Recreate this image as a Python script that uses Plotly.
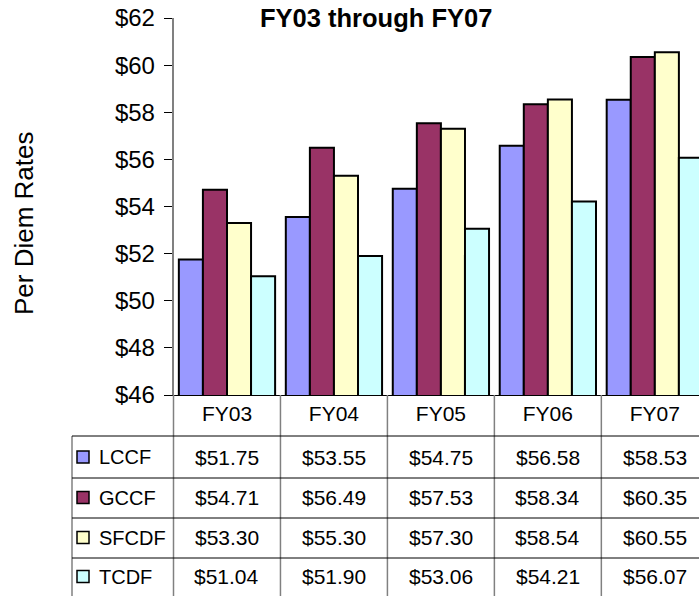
import plotly.graph_objects as go

categories = ["FY03", "FY04", "FY05", "FY06", "FY07"]
series_names = ["LCCF", "GCCF", "SFCDF", "TCDF"]
lccf = [51.75, 53.55, 54.75, 56.58, 58.53]
gccf = [54.71, 56.49, 57.53, 58.34, 60.35]
sfcdf = [53.30, 55.30, 57.30, 58.54, 60.55]
tcdf = [51.04, 51.90, 53.06, 54.21, 56.07]
y_ticks = [46, 48, 50, 52, 54, 56, 58, 60, 62]
y_tick_labels = ["$46", "$48", "$50", "$52", "$54", "$56", "$58", "$60", "$62"]

series_values = [lccf, gccf, sfcdf, tcdf]
colors = ["#9999FF", "#993366", "#FFFFCC", "#CCFFFF"]

W, H = 699, 596
T, B = 18, 201
PH = H - T - B
AX_LEFT = 173.5
FONT = "Liberation Sans, Arial, sans-serif"


def py(Y):
    return (H - B - Y) / PH


def px(X):
    return X / W


fig = go.Figure()
for name, vals, col in zip(series_names, series_values, colors):
    fig.add_trace(go.Bar(
        x=categories, y=vals, name=name,
        marker=dict(color=col, line=dict(color="black", width=2)),
        showlegend=False, hoverinfo="x+y+name",
    ))

shapes = []
annotations = []

# vertical grid lines of the data table (category boundaries)
for i in range(len(categories) - 1):
    shapes.append(dict(type="line", xref="x", yref="paper",
                       x0=i + 0.5, x1=i + 0.5, y0=0, y1=py(620),
                       line=dict(color="#808080", width=1.5)))
# y axis extension through the table
shapes.append(dict(type="line", xref="x domain", yref="paper",
                   x0=0, x1=0, y0=0, y1=py(620),
                   line=dict(color="#808080", width=1.5)))
# table left border
shapes.append(dict(type="line", xref="paper", yref="paper",
                   x0=px(72), x1=px(72), y0=py(436), y1=py(620),
                   line=dict(color="#808080", width=1.5)))
# horizontal table lines
for Y in [436, 478, 518, 558]:
    shapes.append(dict(type="line", xref="paper", yref="paper",
                       x0=px(72), x1=1, y0=py(Y), y1=py(Y),
                       line=dict(color="black", width=1)))

row_centers = [457, 497.5, 537.5, 576.5]
for name, vals, col, yc in zip(series_names, series_values, colors, row_centers):
    shapes.append(dict(type="rect", xref="paper", yref="paper",
                       x0=px(77), x1=px(89), y0=py(yc - 6), y1=py(yc + 6),
                       fillcolor=col, line=dict(color="black", width=1.5)))
    annotations.append(dict(xref="paper", yref="paper", x=px(97), y=py(yc),
                            xanchor="left", yanchor="middle", showarrow=False,
                            text=name, font=dict(family=FONT, size=20, color="black")))
    for c, v in zip(categories, vals):
        annotations.append(dict(xref="x", yref="paper", x=c, y=py(yc),
                                xanchor="center", yanchor="middle", showarrow=False,
                                text="${:.2f}".format(v),
                                font=dict(family=FONT, size=21, color="black")))

# title
annotations.append(dict(xref="paper", yref="paper", x=px(375.5), y=py(18.5),
                        xanchor="center", yanchor="middle", showarrow=False,
                        text="<b>FY03 through FY07</b>",
                        font=dict(family=FONT, size=25.5, color="black")))
# y title
annotations.append(dict(xref="paper", yref="paper", x=px(24), y=py(223),
                        xanchor="center", yanchor="middle", showarrow=False,
                        textangle=-90, text="Per Diem Rates",
                        font=dict(family=FONT, size=26, color="black")))

fig.update_layout(
    width=W, height=H,
    margin=dict(l=0, r=0, t=T, b=B, pad=0),
    paper_bgcolor="white", plot_bgcolor="white",
    barmode="group", bargap=0.1, bargroupgap=0,
    font=dict(family=FONT, color="black"),
    shapes=shapes, annotations=annotations,
    xaxis=dict(domain=[AX_LEFT / W, 1], range=[-0.5, 4.413],
               showline=True, linecolor="black", linewidth=1,
               ticks="", showgrid=False, zeroline=False,
               tickfont=dict(family=FONT, size=21, color="black"),
               fixedrange=True),
    yaxis=dict(range=[46, 62], tickvals=y_ticks, ticktext=y_tick_labels,
               showline=True, linecolor="#808080", linewidth=1.5,
               ticks="outside", ticklen=8, tickcolor="black", tickwidth=1,
               showgrid=False, zeroline=False,
               tickfont=dict(family=FONT, size=24, color="black"),
               ticklabelstandoff=4, fixedrange=True),
)

fig.write_html(
    "out.html",
    config={"displayModeBar": False},
    post_script="document.body.style.margin='0';document.body.style.overflow='hidden';",
)
